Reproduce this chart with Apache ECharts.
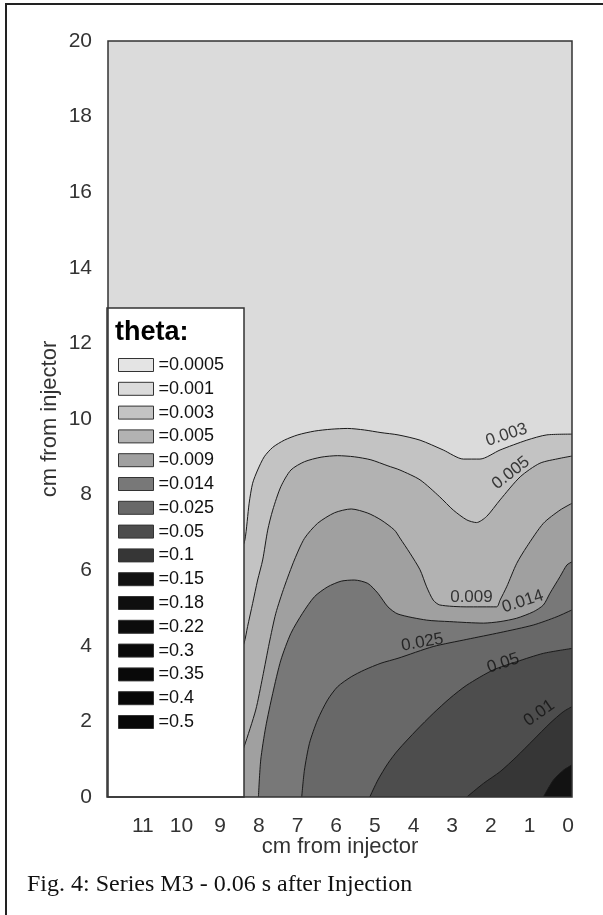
<!DOCTYPE html>
<html>
<head>
<meta charset="utf-8">
<script src="https://cdn.jsdelivr.net/npm/echarts@6/dist/echarts.min.js"></script>
<style>
  html, body { margin: 0; padding: 0; background: #fff; }
  #chart { width: 603px; height: 915px; }
</style>
</head>
<body>
<div id="chart"></div>
<script>
// Contour levels of theta and their fill shades
const levels = ['0.0005', '0.001', '0.003', '0.005', '0.009', '0.014', '0.025', '0.05',
                '0.1', '0.15', '0.18', '0.22', '0.3', '0.35', '0.4', '0.5'];
const levelColors = ['#e4e4e4', '#dbdbdb', '#c3c3c3', '#b2b2b2', '#a0a0a0', '#787878', '#686868', '#4d4d4d',
                     '#363636', '#121212', '#0f0f0f', '#0c0c0c', '#0a0a0a', '#090909', '#080808', '#070707'];

// Axis ticks (cm from injector)
const xTicks = [11, 10, 9, 8, 7, 6, 5, 4, 3, 2, 1, 0];
const yTicks = [0, 2, 4, 6, 8, 10, 12, 14, 16, 18, 20];

// Contour lines as [x cm, y cm]
const contour003 = [[8.5, 6.4], [8.36, 6.80], [8.25, 7.77], [8.16, 8.30], [8.03, 8.65], [7.86, 9.00], [7.64, 9.25],
  [7.34, 9.44], [6.99, 9.58], [6.56, 9.68], [6.13, 9.73], [5.70, 9.75], [5.27, 9.71], [4.84, 9.64], [4.40, 9.58],
  [3.83, 9.44], [3.23, 9.18], [2.71, 8.94], [2.28, 8.94], [1.76, 9.18], [1.07, 9.44], [0.55, 9.58], [-0.1, 9.60]];
const contour005 = [[8.5, 3.8], [8.38, 4.07], [8.29, 4.51], [8.16, 5.12], [8.03, 5.74], [7.90, 6.27], [7.77, 7.06],
  [7.64, 7.59], [7.43, 8.21], [7.17, 8.65], [6.82, 8.87], [6.39, 8.99], [5.96, 9.03], [5.53, 9.00], [5.10, 8.92],
  [4.66, 8.76], [4.35, 8.65], [3.83, 8.39], [3.32, 7.94], [2.97, 7.59], [2.62, 7.33], [2.37, 7.26], [2.11, 7.42],
  [1.76, 7.86], [1.24, 8.47], [0.73, 8.83], [0.21, 8.96], [-0.1, 9.02]];
const contour009 = [[8.5, 1.0], [8.38, 1.33], [8.08, 2.30], [7.90, 3.18], [7.73, 4.07], [7.56, 4.86], [7.34, 5.56],
  [7.08, 6.27], [6.82, 6.84], [6.48, 7.24], [6.04, 7.52], [5.61, 7.62], [5.18, 7.51], [4.84, 7.33], [4.49, 7.06],
  [4.35, 6.85], [4.09, 6.45], [3.83, 6.01], [3.66, 5.56], [3.49, 5.21], [3.32, 5.08], [2.62, 5.03], [1.85, 5.03],
  [1.76, 5.21], [1.59, 5.56], [1.33, 6.18], [1.07, 6.62], [0.64, 7.24], [0.21, 7.59], [-0.1, 7.77]];
const contour014 = [[8.01, 0], [7.95, 0.98], [7.82, 1.86], [7.64, 2.74], [7.43, 3.62], [7.17, 4.33], [6.87, 4.86],
  [6.56, 5.30], [6.22, 5.56], [5.87, 5.71], [5.53, 5.74], [5.18, 5.65], [4.92, 5.39], [4.66, 5.03], [4.40, 4.84],
  [3.66, 4.68], [3.06, 4.64], [2.19, 4.60], [1.76, 4.64], [1.33, 4.73], [0.90, 4.90], [0.64, 5.08], [0.47, 5.39],
  [0.21, 5.83], [0.03, 6.14], [-0.1, 6.22]];
const contour025 = [[6.89, 0], [6.82, 0.71], [6.69, 1.42], [6.48, 2.04], [6.22, 2.57], [5.96, 2.92], [5.61, 3.18],
  [5.27, 3.36], [4.84, 3.54], [4.40, 3.67], [3.49, 3.98], [2.62, 4.17], [1.76, 4.35], [0.90, 4.55], [0.29, 4.77],
  [-0.1, 4.95]];
const contour05 = [[5.13, 0], [4.92, 0.45], [4.66, 0.89], [4.40, 1.24], [3.92, 1.77], [3.49, 2.21], [3.06, 2.61],
  [2.62, 2.96], [1.94, 3.36], [1.33, 3.58], [0.64, 3.80], [-0.1, 3.93]];
const contour1 = [[2.62, 0], [2.19, 0.36], [1.76, 0.67], [1.33, 1.07], [0.90, 1.51], [0.47, 1.95], [0.12, 2.26],
  [-0.1, 2.39]];
const contour15 = [[0.64, 0], [0.38, 0.45], [0.12, 0.71], [-0.1, 0.85]];

// Inline contour labels: text and anchor [x cm, y cm]
const contourLabelTexts = ['0.003', '0.005', '0.009', '0.014', '0.025', '0.05', '0.01'];
const contourLabelPoints = [[1.59, 9.58], [1.48, 8.57], [2.50, 5.28], [1.17, 5.17], [3.77, 4.09], [1.68, 3.54], [0.75, 2.22]];

// ---------------------------------------------------------------------------
const contoursByLevel = {
  '0.003': contour003, '0.005': contour005, '0.009': contour009, '0.014': contour014,
  '0.025': contour025, '0.05': contour05, '0.1': contour1, '0.15': contour15
};
const labelAngles = [18, 38, 0, 18, 10, 18, 35];

const SANS = 'Liberation Sans, Arial, sans-serif';
const GRID = { left: 108, top: 41, width: 464, height: 756 };

const bandSeries = levels.map((lv, i) => ({
  name: '=' + lv,
  type: 'line',
  data: contoursByLevel[lv] || [],
  showSymbol: false,
  smooth: 0.25,
  silent: true,
  z: 2,
  itemStyle: { color: levelColors[i] },
  lineStyle: { color: '#1a1a1a', width: 1 },
  areaStyle: { color: levelColors[i], opacity: 1, origin: 'start' }
}));

const labelSeries = {
  type: 'scatter',
  symbolSize: 0,
  silent: true,
  z: 3,
  data: contourLabelPoints.map((p, i) => ({
    value: p,
    label: {
      show: true,
      position: 'inside',
      formatter: contourLabelTexts[i],
      rotate: labelAngles[i],
      color: '#111',
      fontFamily: SANS,
      fontSize: 17
    }
  }))
};

const chart = echarts.init(document.getElementById('chart'));
chart.setOption({
  backgroundColor: '#ffffff',
  animation: false,
  grid: Object.assign({ show: true, backgroundColor: levelColors[1], borderWidth: 0 }, GRID),
  xAxis: {
    type: 'value', inverse: true, min: -0.1, max: 11.9,
    name: 'cm from injector', nameLocation: 'middle', nameGap: 39, nameMoveOverlap: false,
    nameTextStyle: { fontFamily: SANS, fontSize: 22, color: '#333' },
    axisLine: { show: false }, axisTick: { show: false }, splitLine: { show: false },
    axisLabel: { customValues: xTicks, fontFamily: SANS, fontSize: 21, color: '#333', margin: 19 }
  },
  yAxis: {
    type: 'value', min: 0, max: 20, interval: 2,
    name: 'cm from injector', nameLocation: 'middle', nameGap: 47, nameRotate: 90, nameMoveOverlap: false,
    nameTextStyle: { fontFamily: SANS, fontSize: 22, color: '#333' },
    axisLine: { show: false }, axisTick: { show: false }, splitLine: { show: false },
    axisLabel: { customValues: yTicks, fontFamily: SANS, fontSize: 21, color: '#333', margin: 16 }
  },
  title: [
    { text: 'Fig. 4: Series M3 - 0.06 s after Injection', left: 27, top: 873, padding: 0,
      textStyle: { fontFamily: 'Liberation Serif, Times New Roman, serif', fontSize: 24, fontWeight: 'normal', color: '#111' } },
    { text: 'theta:', left: 115, top: 319, padding: 0, z: 8,
      textStyle: { fontFamily: SANS, fontSize: 27, fontWeight: 'bold', color: '#000' } }
  ],
  legend: {
    orient: 'vertical', left: 118, top: 356, padding: 0,
    itemWidth: 35, itemHeight: 13, itemGap: 5.8, icon: 'rect', selectedMode: false, z: 8,
    itemStyle: { borderColor: '#333', borderWidth: 1 },
    textStyle: { fontFamily: SANS, fontSize: 18, color: '#111' },
    data: levels.map((lv, i) => ({ name: '=' + lv, itemStyle: { color: levelColors[i] } }))
  },
  graphic: [
    { type: 'rect', z: 5, shape: { x: 107, y: 308, width: 137, height: 489 },
      style: { fill: '#ffffff', stroke: '#333', lineWidth: 1.5 } },
    { type: 'rect', z: 20, shape: { x: GRID.left, y: GRID.top, width: GRID.width, height: GRID.height },
      style: { fill: null, stroke: '#333', lineWidth: 1.5 } },
    { type: 'polyline', z: 20, shape: { points: [[6, 915], [6, 4], [603, 4]] },
      style: { fill: null, stroke: '#222', lineWidth: 2 } }
  ],
  series: bandSeries.concat([labelSeries])
});
</script>
</body>
</html>
